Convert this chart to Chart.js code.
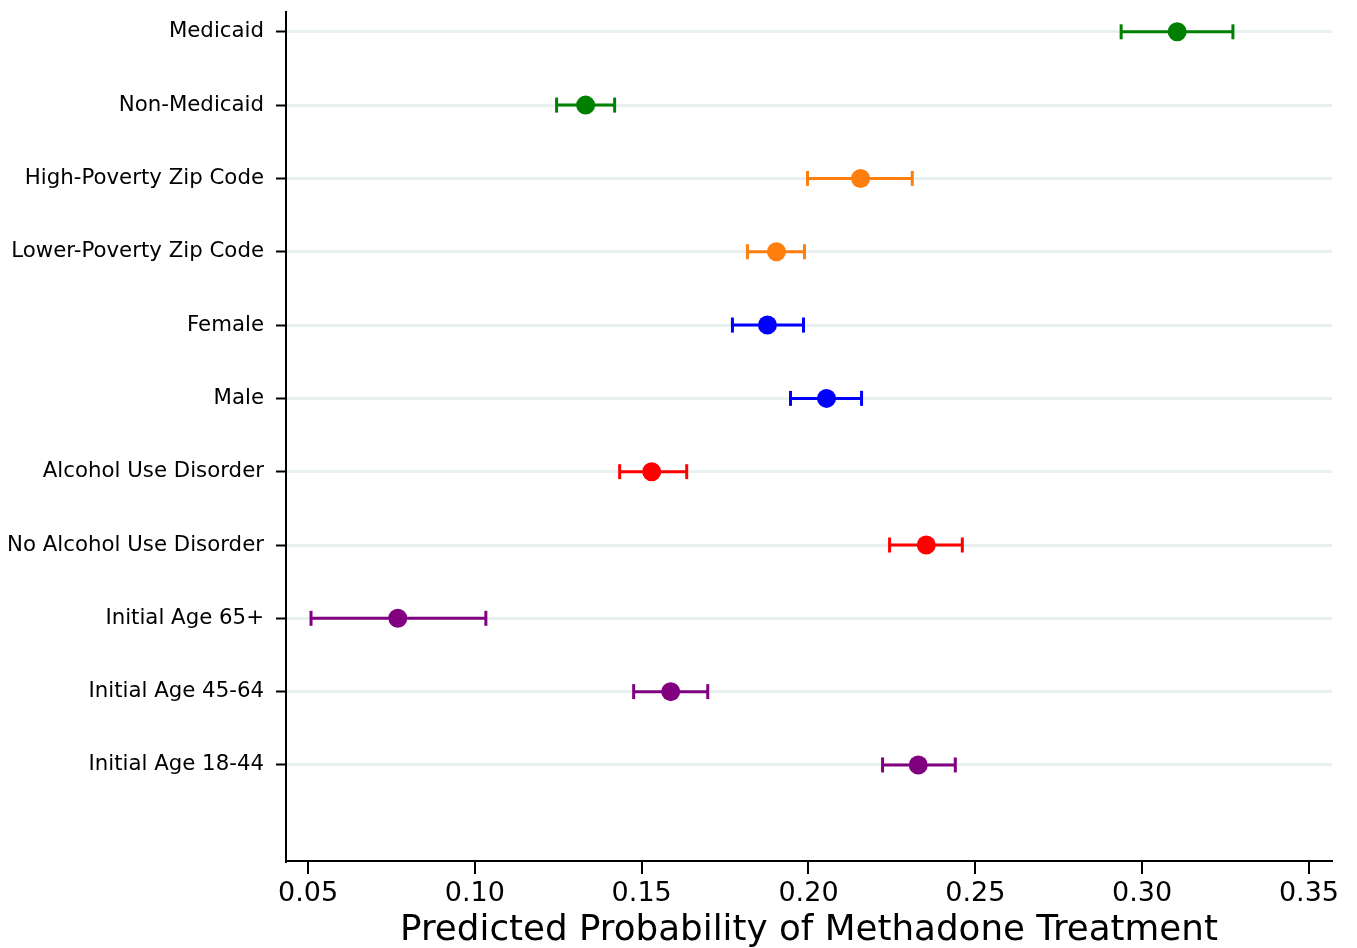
<!DOCTYPE html>
<html>
<head>
<meta charset="utf-8">
<script src="https://cdn.jsdelivr.net/npm/chart.js@4.4.0/dist/chart.umd.min.js"></script>
<style>
  html, body { margin: 0; padding: 0; background: #fff; }
  #wrap { width: 1357px; height: 948px; }
</style>
</head>
<body>
<div id="wrap"><canvas id="grafico" width="1357" height="948"></canvas></div>
<script>
// ====== DADOS ======
const categorias = [
  'Medicaid', 'Non-Medicaid',
  'High-Poverty Zip Code', 'Lower-Poverty Zip Code',
  'Female', 'Male',
  'Alcohol Use Disorder', 'No Alcohol Use Disorder',
  'Initial Age 65+', 'Initial Age 45-64', 'Initial Age 18-44'
];
const estimativas = [0.3105, 0.1332, 0.2156, 0.1904, 0.1877, 0.2054, 0.1530, 0.2353, 0.0769, 0.1587, 0.2329];
const limiteInf   = [0.2937, 0.1245, 0.1997, 0.1817, 0.1772, 0.1946, 0.1434, 0.2243, 0.0509, 0.1476, 0.2222];
const limiteSup   = [0.3272, 0.1419, 0.2311, 0.1988, 0.1985, 0.2159, 0.1635, 0.2461, 0.1033, 0.1698, 0.2440];
const cores = ['green', 'green', '#ff7f0e', '#ff7f0e', 'blue', 'blue', 'red', 'red', 'purple', 'purple', 'purple'];
const ticksX = [0.05, 0.10, 0.15, 0.20, 0.25, 0.30, 0.35];

const FONTE = 'DejaVu Sans';

// ====== DATASETS ======
const pontos = {
  type: 'scatter',
  order: 0,
  data: estimativas.map((v, i) => ({ x: v, y: i })),
  backgroundColor: cores,
  borderColor: cores,
  pointRadius: 9.5,
  pointBorderWidth: 0,
};

const barras = categorias.map((c, i) => ({
  type: 'line',
  order: 1,
  data: [{ x: limiteInf[i], y: i }, { x: limiteSup[i], y: i }],
  borderColor: cores[i],
  backgroundColor: cores[i],
  borderWidth: 3,
  pointStyle: 'line',
  rotation: 90,
  pointRadius: 7.5,
  pointBorderWidth: 3,
  fill: false,
}));

// ====== GRAFICO ======
new Chart(document.getElementById('grafico').getContext('2d'), {
  type: 'scatter',
  data: { datasets: [pontos, ...barras] },
  options: {
    responsive: false,
    animation: false,
    events: [],
    layout: { padding: { top: 12, right: 25, left: 0, bottom: 0 } },
    plugins: { legend: { display: false }, tooltip: { enabled: false } },
    scales: {
      x: {
        type: 'linear',
        min: 0.0434,
        max: 0.3569,
        afterBuildTicks: s => { s.ticks = ticksX.map(v => ({ value: v })); },
        afterFit: s => { s.height = 87; s.paddingLeft = 0; s.paddingRight = 0; },
        grid: { drawOnChartArea: false, color: '#000', tickColor: '#000', tickLength: 13, lineWidth: 2 },
        border: { display: true, color: '#000', width: 2 },
        ticks: {
          color: '#000',
          padding: 4,
          maxRotation: 0,
          font: { family: FONTE, size: 27 },
          callback: v => v.toFixed(2),
        },
        title: {
          display: true,
          text: 'Predicted Probability of Methadone Treatment',
          color: '#000',
          font: { family: FONTE, size: 35.7 },
          padding: { top: 0, bottom: -4 },
        },
      },
      y: {
        type: 'linear',
        reverse: true,
        min: -0.27,
        max: 11.31,
        afterBuildTicks: s => { s.ticks = categorias.map((c, i) => ({ value: i })); },
        afterFit: s => { s.width = 286; s.paddingTop = 0; s.paddingBottom = 0; },
        grid: { color: '#e8f0f0', lineWidth: 3, tickColor: '#000', tickLength: 10, tickWidth: 2 },
        border: { display: true, color: '#000', width: 2 },
        ticks: {
          color: '#000',
          padding: 12,
          font: { family: FONTE, size: 21.3 },
          callback: v => categorias[v] ?? '',
        },
      },
    },
  },
});
</script>
</body>
</html>
